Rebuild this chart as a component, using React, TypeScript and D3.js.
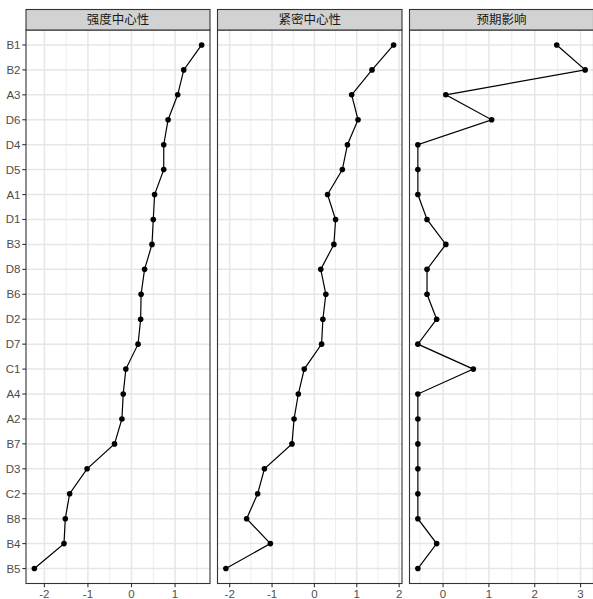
import React from "react";
import * as d3 from "d3";

const categories = ["B1","B2","A3","D6","D4","D5","A1","D1","B3","D8","B6","D2","D7","C1","A4","A2","B7","D3","C2","B8","B4","B5"];
const panelTitles = ["强度中心性", "紧密中心性", "预期影响"];
const strength = [1.61,1.20,1.06,0.84,0.74,0.74,0.53,0.50,0.47,0.30,0.22,0.21,0.15,-0.13,-0.19,-0.22,-0.39,-1.02,-1.42,-1.52,-1.55,-2.23];
const closeness = [1.87,1.36,0.88,1.03,0.78,0.66,0.31,0.50,0.46,0.15,0.27,0.20,0.17,-0.24,-0.38,-0.48,-0.53,-1.18,-1.34,-1.60,-1.04,-2.09];
const impact = [2.48,3.10,0.06,1.06,-0.55,-0.55,-0.55,-0.35,0.06,-0.35,-0.35,-0.14,-0.55,0.66,-0.55,-0.55,-0.55,-0.55,-0.55,-0.55,-0.14,-0.55];

const W = 593, H = 599;
const stripTop = 9.5, stripH = 20.5;
const panelTop = stripTop + stripH, panelBottom = 583.5;
const panelX = [[26, 210], [217.5, 402], [409.5, 593.5]];

export default function App() {
  const series = [strength, closeness, impact];
  const y = d3.scalePoint<string>().domain(categories).range([panelTop, panelBottom]).padding(0.6);
  const font = "'Liberation Sans', Arial, sans-serif";
  const cjk = "'Noto Sans CJK SC', sans-serif";
  return (
    <svg width={W} height={H} style={{ position: "absolute", left: 0, top: 0, background: "#fff" }}>
      <rect width={W} height={H} fill="#fff" />
      {series.map((vals, pi) => {
        const [x0, x1] = panelX[pi];
        const ext = d3.extent(vals) as [number, number];
        const pad = (ext[1] - ext[0]) * 0.05;
        const x = d3.scaleLinear().domain([ext[0] - pad, ext[1] + pad]).range([x0, x1]);
        const major = x.ticks(5).filter(t => Number.isInteger(t));
        const minor = d3.range(Math.floor(x.domain()[0]) - 0.5, x.domain()[1], 1).filter(t => t >= x.domain()[0] && t <= x.domain()[1]);
        const line = d3.line<number>().x(v => x(v)).y((_, i) => y(categories[i])!);
        return (
          <g key={pi}>
            <rect x={x0} y={panelTop} width={x1 - x0} height={panelBottom - panelTop} fill="#fff" />
            {minor.map(t => (
              <line key={"mn" + t} x1={x(t)} x2={x(t)} y1={panelTop} y2={panelBottom} stroke="#EBEBEB" strokeWidth={0.9} />
            ))}
            {major.map(t => (
              <line key={"mj" + t} x1={x(t)} x2={x(t)} y1={panelTop} y2={panelBottom} stroke="#E6E6E6" strokeWidth={1.5} />
            ))}
            {categories.map(c => (
              <line key={"h" + c} x1={x0} x2={x1} y1={y(c)} y2={y(c)} stroke="#E6E6E6" strokeWidth={1.5} />
            ))}
            <path d={line(vals) || ""} fill="none" stroke="#000" strokeWidth={1.2} />
            {vals.map((v, i) => (
              <circle key={i} cx={x(v)} cy={y(categories[i])} r={2.8} fill="#000" />
            ))}
            <rect x={x0} y={panelTop} width={x1 - x0} height={panelBottom - panelTop} fill="none" stroke="#333" strokeWidth={1.1} />
            <rect x={x0} y={stripTop} width={x1 - x0} height={stripH} fill="#D2D2D2" stroke="#333" strokeWidth={1.1} />
            <text x={(x0 + x1) / 2} y={stripTop + stripH / 2 + 4.3} textAnchor="middle" fontFamily={cjk} fontSize={12.5} fill="#1A1A1A">{panelTitles[pi]}</text>
            {major.map(t => (
              <g key={"xt" + t}>
                <line x1={x(t)} x2={x(t)} y1={panelBottom} y2={panelBottom + 3.7} stroke="#333" strokeWidth={1.1} />
                <text x={x(t)} y={panelBottom + 14} textAnchor="middle" fontFamily={font} fontSize={11.5} fill="#4D4D4D">{t < 0 ? "-" + Math.abs(t) : String(t)}</text>
              </g>
            ))}
          </g>
        );
      })}
      {categories.map(c => (
        <g key={"yt" + c}>
          <line x1={panelX[0][0] - 3.7} x2={panelX[0][0]} y1={y(c)} y2={y(c)} stroke="#333" strokeWidth={1.1} />
          <text x={panelX[0][0] - 5.5} y={y(c)! + 4} textAnchor="end" fontFamily={font} fontSize={11.5} fill="#4D4D4D">{c}</text>
        </g>
      ))}
    </svg>
  );
}
